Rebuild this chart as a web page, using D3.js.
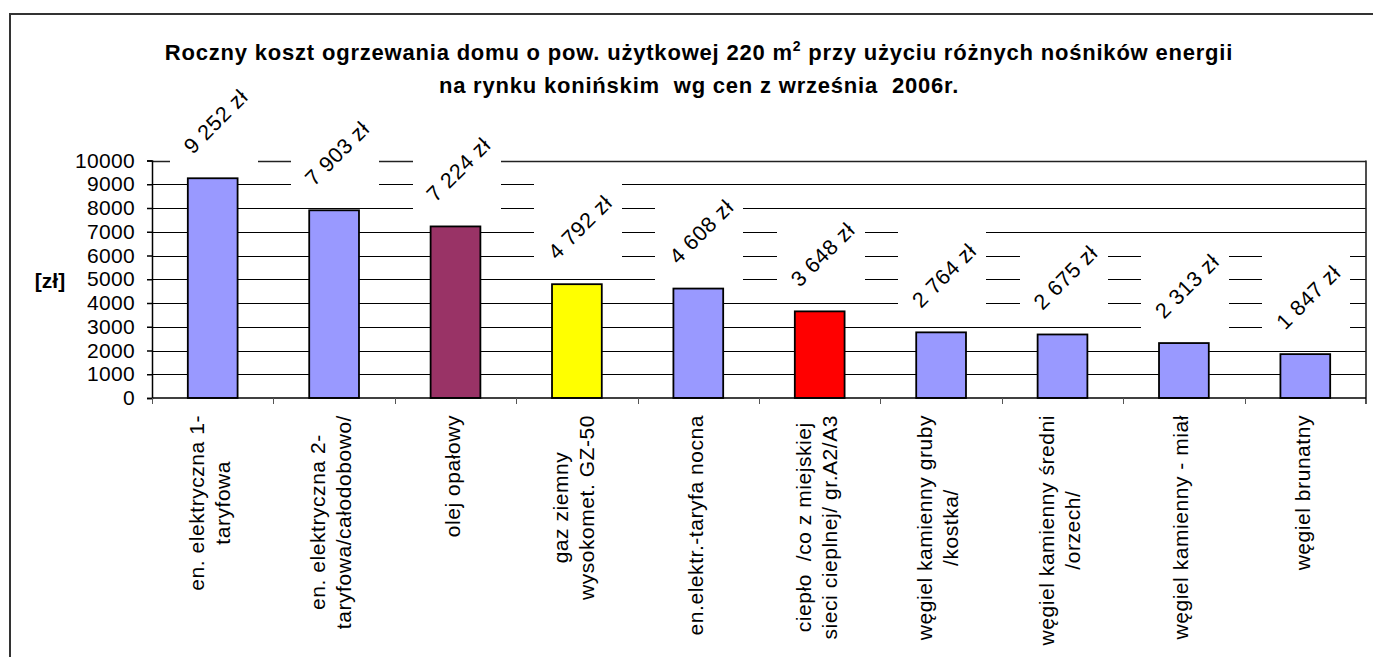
<!DOCTYPE html>
<html>
<head>
<meta charset="utf-8">
<script src="https://cdn.jsdelivr.net/npm/d3@7"></script>
<style>
  body { margin: 0; background: #fff; }
  svg { display: block; font-family: "Liberation Sans", Arial, sans-serif; }
  text { white-space: pre; }
</style>
</head>
<body>
<svg id="vis"></svg>
<script>
// chart data
const categories = [
  "en. elektryczna 1-\ntaryfowa",
  "en. elektryczna 2-\ntaryfowa/całodobowo/",
  "olej opałowy",
  "gaz ziemny\nwysokomet. GZ-50",
  "en.elektr.-taryfa nocna",
  "ciepło  /co z miejskiej\nsieci cieplnej/ gr.A2/A3",
  "węgiel kamienny gruby\n/kostka/",
  "węgiel kamienny średni\n/orzech/",
  "węgiel kamienny - miał",
  "węgiel brunatny"
];
const costs = [9252, 7903, 7224, 4792, 4608, 3648, 2764, 2675, 2313, 1847];
const barColors = ["#9999FF", "#9999FF", "#993366", "#FFFF00", "#9999FF",
                   "#FF0000", "#9999FF", "#9999FF", "#9999FF", "#9999FF"];
const yTicks = [0, 1000, 2000, 3000, 4000, 5000, 6000, 7000, 8000, 9000, 10000];

const titleLine1 = ["Roczny koszt ogrzewania domu o pow. użytkowej 220 m", "2", " przy użyciu różnych nośników energii"];
const titleLine2 = "na rynku konińskim  wg cen z września  2006r.";
const yTitle = "[zł]";

let config = { svg: {}, plot: {} };
config.svg.width = 1373;
config.svg.height = 657;
config.plot.left = 152;
config.plot.right = 1366;
config.plot.top = 160.5;
config.plot.bottom = 398;

const fontSize = 21;

const svg = d3.select("svg#vis")
  .attr("width", config.svg.width)
  .attr("height", config.svg.height);

// outer chart-area frame (cut off at right and bottom)
svg.append("rect")
  .attr("x", 10).attr("y", 14)
  .attr("width", 1400).attr("height", 700)
  .attr("fill", "#fff")
  .attr("stroke", "#333")
  .attr("stroke-width", 2);

let scale = {};
scale.x = d3.scaleBand()
  .domain(categories)
  .range([config.plot.left, config.plot.right])
  .padding(0);
scale.y = d3.scaleLinear()
  .domain([0, 10000])
  .range([config.plot.bottom, config.plot.top]);

const barWidth = scale.x.bandwidth() * 0.41;

// gridlines
svg.append("g")
  .selectAll("line")
  .data(yTicks.slice(1))
  .join("line")
  .attr("x1", config.plot.left)
  .attr("x2", config.plot.right)
  .attr("y1", d => Math.round(scale.y(d)) + 0.5)
  .attr("y2", d => Math.round(scale.y(d)) + 0.5)
  .attr("stroke", d => d === 10000 ? "#222" : "#000")
  .attr("stroke-width", d => d === 10000 ? 1.6 : 1);

// right border of plot area
svg.append("line")
  .attr("x1", config.plot.right).attr("x2", config.plot.right)
  .attr("y1", config.plot.top).attr("y2", config.plot.bottom + 6)
  .attr("stroke", "#222").attr("stroke-width", 1.6);

// data label formatting
const locale = d3.formatLocale({ decimal: ",", thousands: " ", grouping: [3], currency: ["", " zł"] });
const fmt = locale.format(",d");

const labelPos = (d, i) => [
  scale.x(categories[i]) + scale.x.bandwidth() / 2 + 3,
  scale.y(d) - 57
];

// white boxes behind data labels (break the gridlines like the original)
const box = 88;
svg.append("g")
  .selectAll("rect")
  .data(costs)
  .join("rect")
  .attr("x", (d, i) => Math.round(labelPos(d, i)[0] - box / 2 - 2))
  .attr("y", (d, i) => Math.round(labelPos(d, i)[1] - box / 2))
  .attr("width", box)
  .attr("height", box + 4)
  .attr("fill", "#fff");

// bars
svg.append("g")
  .selectAll("rect")
  .data(costs)
  .join("rect")
  .attr("x", (d, i) => scale.x(categories[i]) + (scale.x.bandwidth() - barWidth) / 2)
  .attr("y", d => scale.y(d))
  .attr("width", barWidth)
  .attr("height", d => scale.y(0) - scale.y(d))
  .attr("fill", (d, i) => barColors[i])
  .attr("stroke", "#000")
  .attr("stroke-width", 1.8);

// data labels
svg.append("g")
  .selectAll("text")
  .data(costs)
  .join("text")
  .attr("transform", (d, i) => "translate(" + labelPos(d, i) + ") rotate(-45)")
  .attr("text-anchor", "middle")
  .attr("dy", "0.35em")
  .attr("font-size", 21.5)
  .attr("letter-spacing", 0.6)
  .attr("fill", "#000")
  .text(d => fmt(d) + " zł");

// y axis
let axisY = d3.axisLeft(scale.y)
  .tickValues(yTicks)
  .tickFormat(d3.format("d"))
  .tickSize(5)
  .tickPadding(12);

let gy = svg.append("g")
  .attr("transform", "translate(" + config.plot.left + ",0)")
  .call(axisY);
gy.select(".domain").attr("stroke", "#000").attr("stroke-width", 1.5);
gy.selectAll(".tick line").attr("stroke", "#000").attr("stroke-width", 1.5);
gy.selectAll(".tick text")
  .attr("font-size", fontSize)
  .attr("letter-spacing", 0.3)
  .attr("font-family", "Liberation Sans, Arial, sans-serif")
  .attr("fill", "#000");

// x axis line and category ticks
svg.append("line")
  .attr("x1", config.plot.left).attr("x2", config.plot.right)
  .attr("y1", config.plot.bottom).attr("y2", config.plot.bottom)
  .attr("stroke", "#000").attr("stroke-width", 1.6);

const boundaries = categories.map(c => scale.x(c)).concat([config.plot.right]);
svg.append("g")
  .selectAll("line")
  .data(boundaries)
  .join("line")
  .attr("x1", d => Math.round(d) + 0.5).attr("x2", d => Math.round(d) + 0.5)
  .attr("y1", config.plot.bottom).attr("y2", config.plot.bottom + 6)
  .attr("stroke", "#555").attr("stroke-width", 1);

// category labels, rotated, multi-line centered
const catTop = 415;
const lineGap = 26;
let catGroups = svg.append("g")
  .selectAll("g")
  .data(categories)
  .join("g")
  .attr("transform", d => "translate(" + (scale.x(d) + scale.x.bandwidth() / 2 - 3) + "," + catTop + ") rotate(-90)");

catGroups.each(function(d) {
  let g = d3.select(this);
  let lines = d.split("\n");
  let texts = g.selectAll("text")
    .data(lines)
    .join("text")
    .attr("font-size", fontSize)
    .attr("letter-spacing", 0.55)
    .attr("fill", "#000")
    .attr("text-anchor", "middle")
    .attr("dy", "0.35em")
    .attr("y", (l, i) => (i - (lines.length - 1) / 2) * lineGap)
    .text(l => l);
  let maxLen = d3.max(texts.nodes(), n => n.getComputedTextLength());
  texts.attr("x", -maxLen / 2);
});

// y axis title
svg.append("text")
  .attr("x", 50).attr("y", 288)
  .attr("text-anchor", "middle")
  .attr("font-size", fontSize)
  .attr("font-weight", "bold")
  .text(yTitle);

// chart title
let t1 = svg.append("text")
  .attr("x", 699).attr("y", 60)
  .attr("text-anchor", "middle")
  .attr("font-size", 22)
  .attr("letter-spacing", 0.8)
  .attr("font-weight", "bold");
t1.append("tspan").text(titleLine1[0]);
t1.append("tspan").attr("dy", -9).attr("font-size", 14).text(titleLine1[1]);
t1.append("tspan").attr("dy", 9).text(titleLine1[2]);

svg.append("text")
  .attr("x", 699).attr("y", 93)
  .attr("text-anchor", "middle")
  .attr("font-size", 22)
  .attr("letter-spacing", 0.8)
  .attr("font-weight", "bold")
  .text(titleLine2);
</script>
</body>
</html>
